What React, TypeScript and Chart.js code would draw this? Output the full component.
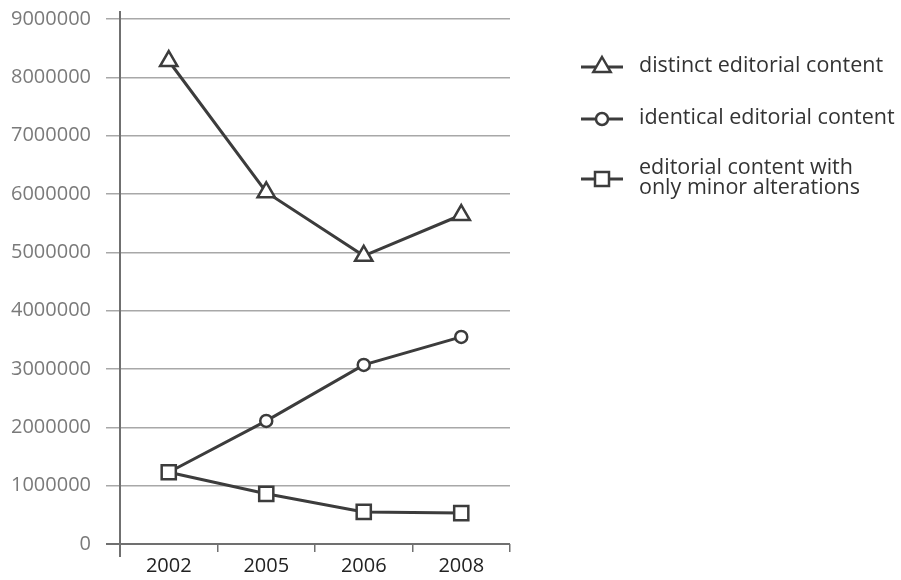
import { useEffect, useRef } from "react";
import { Chart, registerables } from "chart.js";

Chart.register(...registerables);

const years = ["2002", "2005", "2006", "2008"];
const distinctValues = [8280000, 6030000, 4940000, 5640000];
const identicalValues = [1230000, 2110000, 3070000, 3550000];
const minorValues = [1230000, 860000, 550000, 530000];
const legendLines = [
  ["distinct editorial content"],
  ["identical editorial content"],
  ["editorial content with", "only minor alterations"],
];
const legendStyles = ["triangle", "circle", "rect"];
const yMin = 0;
const yMax = 9000000;
const yStep = 1000000;

const FONT = "'Open Sans', 'Noto Sans', sans-serif";
const LINE = "#3c3c3c";

const axisPlugin = {
  id: "axisLines",
  beforeDatasetsDraw(chart: any) {
    const { ctx, chartArea } = chart;
    ctx.save();
    ctx.strokeStyle = "#707070";
    ctx.lineWidth = 2;
    ctx.beginPath();
    ctx.moveTo(chartArea.left, chartArea.top - 8);
    ctx.lineTo(chartArea.left, chartArea.bottom + 13);
    ctx.moveTo(chartArea.left - 14, chartArea.bottom);
    ctx.lineTo(chartArea.right, chartArea.bottom);
    ctx.stroke();
    ctx.restore();
  },
};

function drawMarker(ctx: CanvasRenderingContext2D, style: string, x: number, y: number) {
  ctx.beginPath();
  if (style === "triangle") {
    const r = 10;
    ctx.moveTo(x, y - r);
    ctx.lineTo(x + r * 0.866, y + r / 2);
    ctx.lineTo(x - r * 0.866, y + r / 2);
    ctx.closePath();
  } else if (style === "circle") {
    ctx.arc(x, y, 6, 0, Math.PI * 2);
  } else {
    ctx.rect(x - 7, y - 7, 14, 14);
  }
  ctx.fillStyle = "#ffffff";
  ctx.fill();
  ctx.stroke();
}

const legendPlugin = {
  id: "sideLegend",
  afterDraw(chart: any) {
    const { ctx } = chart;
    const rowY = [67, 119, 179];
    const lineH = 20;
    ctx.save();
    legendLines.forEach((lines, i) => {
      const y = rowY[i];
      ctx.strokeStyle = LINE;
      ctx.lineWidth = 3;
      ctx.beginPath();
      ctx.moveTo(581, y);
      ctx.lineTo(623, y);
      ctx.stroke();
      ctx.lineWidth = 2.5;
      drawMarker(ctx, legendStyles[i], 602, y);
      ctx.fillStyle = "#333333";
      ctx.font = `21.5px ${FONT}`;
      ctx.textBaseline = "middle";
      ctx.textAlign = "left";
      const start = y - ((lines.length - 1) * lineH) / 2 - 1;
      lines.forEach((t, j) => ctx.fillText(t, 639, start + j * lineH));
    });
    ctx.restore();
  },
};

export default function App() {
  const ref = useRef<HTMLCanvasElement | null>(null);
  useEffect(() => {
    if (!ref.current) return;
    const common = {
      borderColor: LINE,
      borderWidth: 3,
      pointBackgroundColor: "#ffffff",
      pointBorderColor: LINE,
      pointBorderWidth: 2.5,
      fill: false,
      tension: 0,
    };
    const chart = new Chart(ref.current, {
      type: "line",
      data: {
        labels: years,
        datasets: [
          { ...common, label: legendLines[0].join(" "), data: distinctValues, pointStyle: "triangle", pointRadius: 10, order: 2 },
          { ...common, label: legendLines[1].join(" "), data: identicalValues, pointStyle: "circle", pointRadius: 6, order: 1 },
          { ...common, label: legendLines[2].join(" "), data: minorValues, pointStyle: "rect", pointRadius: 10, order: 0 },
        ],
      },
      options: {
        animation: false,
        responsive: true,
        maintainAspectRatio: false,
        layout: { padding: { left: 0, top: 19, right: 391, bottom: 0 } },
        plugins: { legend: { display: false }, tooltip: { enabled: false } },
        scales: {
          x: {
            offset: true,
            grid: { offset: true, drawOnChartArea: false, tickLength: 8, color: "#707070", lineWidth: 1.5 },
            border: { display: false },
            ticks: { color: "#222222", font: { family: FONT, size: 20 }, padding: 2 },
            afterFit(scale: any) {
              scale.height = 36;
              scale.paddingLeft = 0;
              scale.paddingRight = 0;
            },
          },
          y: {
            min: yMin,
            max: yMax,
            grid: { color: "#a8a8a8", lineWidth: 1.5, tickLength: 14 },
            border: { display: false },
            ticks: {
              stepSize: yStep,
              color: "#7a7a7a",
              font: { family: FONT, size: 20 },
              padding: 15,
              callback: (v: any) => String(v),
            },
            afterFit(scale: any) {
              scale.width = 120;
              scale.paddingTop = 0;
              scale.paddingBottom = 0;
            },
          },
        },
      },
      plugins: [axisPlugin, legendPlugin],
    } as any);
    return () => chart.destroy();
  }, []);
  return (
    <div style={{ position: "fixed", left: 0, top: 0, width: 901, height: 580, background: "#ffffff" }}>
      <canvas ref={ref} />
    </div>
  );
}
